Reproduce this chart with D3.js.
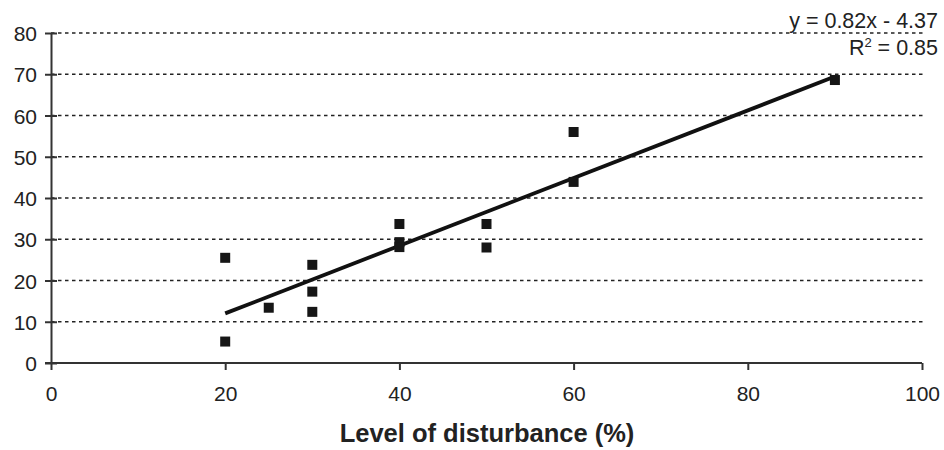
<!DOCTYPE html>
<html>
<head>
<meta charset="utf-8">
<script src="https://cdn.jsdelivr.net/npm/d3@7"></script>
<style>
  body { margin: 0; background: #fff; }
  svg { display: block; font-family: "Liberation Sans", Arial, sans-serif; }
</style>
</head>
<body>
<svg id="chart" width="944" height="450"></svg>
<script>
// data
var disturbance = [20, 20, 25, 30, 30, 30, 40, 40, 40, 50, 50, 60, 60, 90];
var response    = [25.5, 5.2, 13.4, 23.8, 17.3, 12.4, 33.7, 29.3, 28.1, 33.7, 28.0, 56.0, 43.9, 68.6];
var xTicks = [0, 20, 40, 60, 80, 100];
var yTicks = [0, 10, 20, 30, 40, 50, 60, 70, 80];
var slope = 0.82, intercept = -4.37;
var fitRange = [20, 90];
var eqLabel = "y = 0.82x - 4.37";
var r2Value = "0.85";
var xTitle = "Level of disturbance (%)";

var svg = d3.select("#chart");
var margin = {left: 51, right: 22, top: 33, bottom: 87};
var w = 944 - margin.left - margin.right,
    h = 450 - margin.top - margin.bottom;

var x = d3.scaleLinear().domain([0, 100]).range([0, w]);
var y = d3.scaleLinear().domain([0, 80]).range([h, 0]);

var g = svg.append("g").attr("transform", "translate(" + margin.left + "," + margin.top + ")");

// dotted gridlines
g.append("g").selectAll("line")
    .data(yTicks.filter(function(d){ return d > 0; }))
    .enter().append("line")
      .attr("x1", 0).attr("x2", x(100) + 3)
      .attr("y1", function(d){ return y(d); })
      .attr("y2", function(d){ return y(d); })
      .attr("stroke", "#222")
      .attr("stroke-width", 1.6)
      .attr("stroke-dasharray", "3.5,3.5");

// y axis (ticks cross the line)
var yAxis = g.append("g")
    .call(d3.axisLeft(y).tickValues(yTicks).tickSize(6).tickSizeOuter(0));
yAxis.select(".domain").attr("stroke", "#333").attr("stroke-width", 2);
yAxis.selectAll(".tick line").attr("x2", 6).attr("x1", -6).attr("stroke", "#333").attr("stroke-width", 2);
yAxis.selectAll(".tick text")
    .attr("x", -14).attr("dy", "0.36em")
    .attr("font-size", 21).attr("fill", "#222")
    .style("font-family", "'Liberation Sans', Arial, sans-serif");

// x axis
var xAxis = g.append("g").attr("transform", "translate(0," + h + ")")
    .call(d3.axisBottom(x).tickValues(xTicks).tickSize(7).tickSizeOuter(0));
xAxis.select(".domain").attr("stroke", "#333").attr("stroke-width", 2)
    .attr("d", "M-6,0H" + x(100));
xAxis.selectAll(".tick line").attr("stroke", "#333").attr("stroke-width", 2);
xAxis.selectAll(".tick text")
    .attr("y", 38).attr("dy", 0)
    .attr("font-size", 21).attr("fill", "#222")
    .style("font-family", "'Liberation Sans', Arial, sans-serif");

// trend line
g.append("line")
    .attr("x1", x(fitRange[0])).attr("y1", y(slope * fitRange[0] + intercept))
    .attr("x2", x(fitRange[1])).attr("y2", y(slope * fitRange[1] + intercept))
    .attr("stroke", "#111").attr("stroke-width", 3.8);

// points
var sq = 10;
g.append("g").selectAll("rect")
    .data(disturbance)
    .enter().append("rect")
      .attr("x", function(d){ return x(d) - sq / 2; })
      .attr("y", function(d, i){ return y(response[i]) - sq / 2; })
      .attr("width", sq).attr("height", sq)
      .attr("fill", "#161616");

// equation
svg.append("text")
    .attr("x", 938).attr("y", 28)
    .attr("text-anchor", "end")
    .attr("font-size", 21.5).attr("fill", "#222")
    .text(eqLabel);
var r2 = svg.append("text")
    .attr("x", 938).attr("y", 55)
    .attr("text-anchor", "end")
    .attr("font-size", 21.5).attr("fill", "#222");
r2.append("tspan").text("R");
r2.append("tspan").attr("font-size", 13).attr("dy", -8).text("2");
r2.append("tspan").attr("dy", 8).text(" = " + r2Value);

// axis title
svg.append("text")
    .attr("x", 487).attr("y", 442)
    .attr("text-anchor", "middle")
    .attr("font-size", 25.5).attr("font-weight", "bold").attr("fill", "#222")
    .text(xTitle);
</script>
</body>
</html>
